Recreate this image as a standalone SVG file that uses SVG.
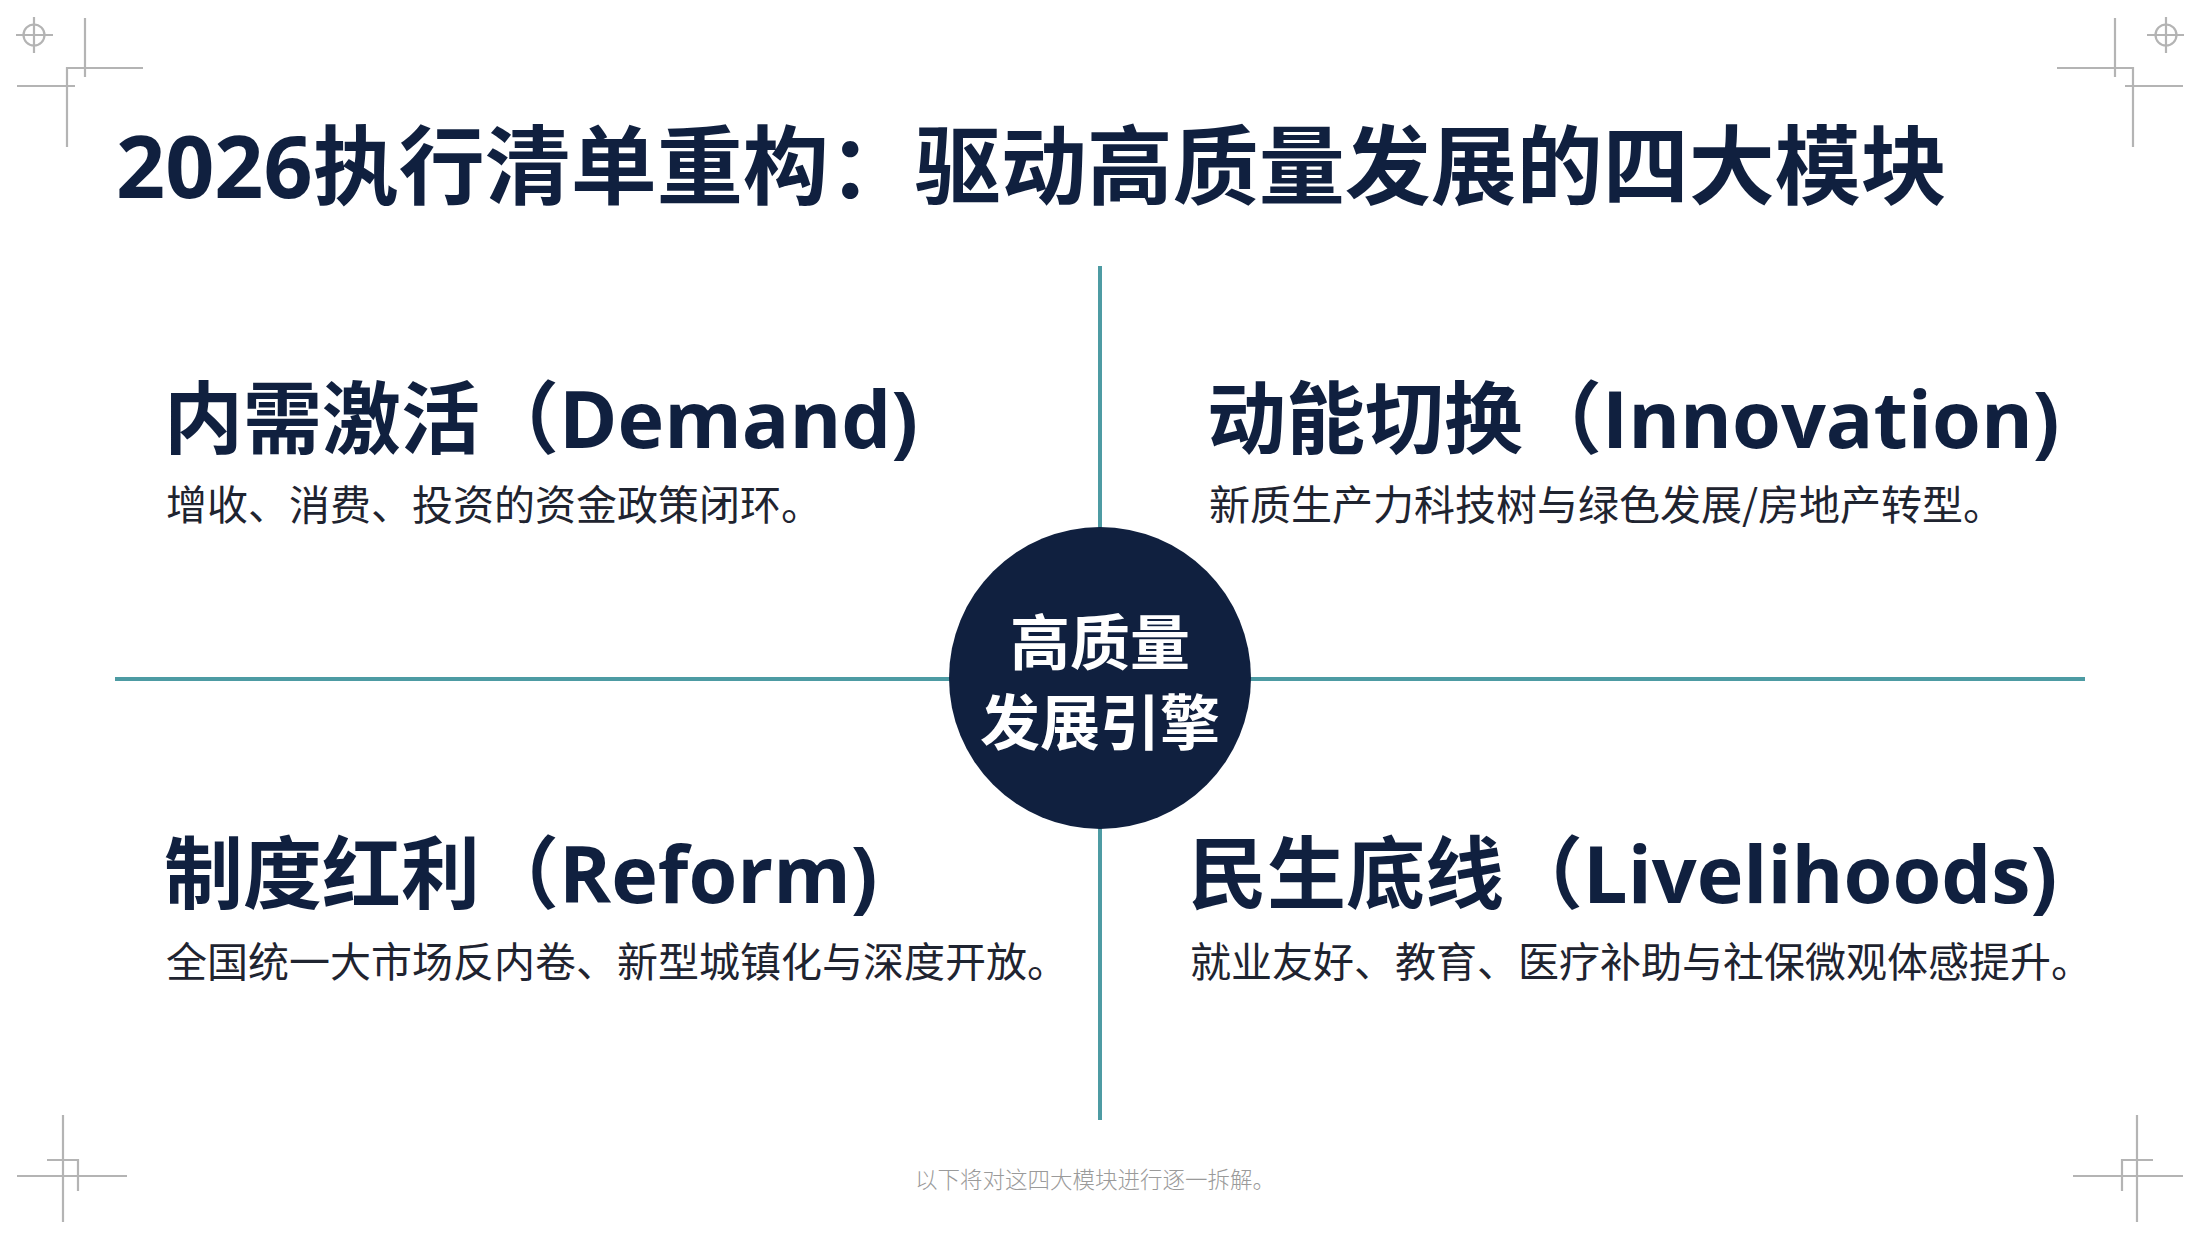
<svg xmlns="http://www.w3.org/2000/svg" width="2200" height="1238" viewBox="0 0 2200 1238">
<style>
.bg{fill:#ffffff}
.mark{stroke:#b4b4b4;stroke-width:2.2;fill:none}
.axis{stroke:#4d9ba3;stroke-width:4;fill:none}
.title{font-family:"Open Sans","Noto Sans CJK SC",sans-serif;font-weight:700;font-size:86px;fill:#10203f}
.head{font-family:"Open Sans","Noto Sans CJK SC",sans-serif;font-weight:700;font-size:79px;fill:#10203f}
.sub{font-family:"Noto Sans CJK SC",sans-serif;font-weight:400;font-size:41px;fill:#1f2430}
.core{font-family:"Noto Sans CJK SC",sans-serif;font-weight:700;font-size:60px;fill:#ffffff;text-anchor:middle}
.foot{font-family:"Noto Sans CJK SC",sans-serif;font-weight:300;font-size:22.5px;fill:#9a9a9a;text-anchor:middle}
</style>
<rect class="bg" x="0" y="0" width="2200" height="1238"/>
<g id="corner-marks">
  <circle class="mark" cx="34" cy="35" r="10.5"/>
  <path class="mark" d="M16 35H53M34 17V53"/>
  <path class="mark" d="M85 18V77M143 68H67V147M17 86H75"/>
  <circle class="mark" cx="2166" cy="35" r="10.5"/>
  <path class="mark" d="M2147 35H2184M2166 17V53"/>
  <path class="mark" d="M2115 18V77M2057 68H2133V147M2183 86H2125"/>
  <path class="mark" d="M63 1115V1222M17 1176H127M47 1160H78V1191"/>
  <path class="mark" d="M2137 1115V1222M2073 1176H2183M2153 1160H2122V1191"/>
</g>
<text id="title" class="title" x="116" y="198">2026执行清单重构：驱动高质量发展的四大模块</text>
<g id="connectors">
  <line class="axis" x1="115" y1="679" x2="2085" y2="679"/>
  <line class="axis" x1="1100" y1="266" x2="1100" y2="1120"/>
</g>
<g id="demand">
  <text class="head" x="164" y="448">内需激活（Demand)</text>
  <text class="sub" x="166" y="520">增收、消费、投资的资金政策闭环。</text>
</g>
<g id="innovation">
  <text class="head" x="1207" y="448">动能切换（Innovation)</text>
  <text class="sub" x="1209" y="520">新质生产力科技树与绿色发展/房地产转型。</text>
</g>
<g id="reform">
  <text class="head" x="164" y="903">制度红利（Reform)</text>
  <text class="sub" x="166" y="977">全国统一大市场反内卷、新型城镇化与深度开放。</text>
</g>
<g id="livelihoods">
  <text class="head" x="1188" y="903">民生底线（Livelihoods)</text>
  <text class="sub" x="1190" y="977">就业友好、教育、医疗补助与社保微观体感提升。</text>
</g>
<g id="core">
  <circle cx="1100" cy="678" r="151" fill="#10203f"/>
  <text class="core" x="1100" y="665">高质量</text>
  <text class="core" x="1100" y="745">发展引擎</text>
</g>
<text id="footer" class="foot" x="1095" y="1188">以下将对这四大模块进行逐一拆解。</text>
</svg>
